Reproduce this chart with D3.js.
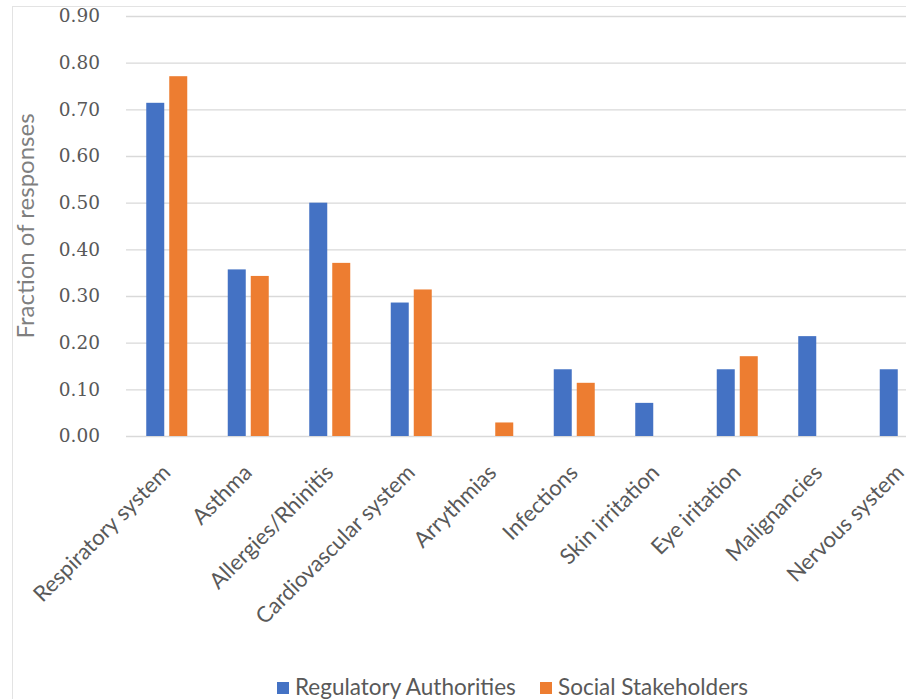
<!DOCTYPE html>
<html>
<head>
<meta charset="utf-8">
<script src="https://cdn.jsdelivr.net/npm/d3@7"></script>
<style>
  body { margin: 0; background: #fff; }
  svg { display: block; }
</style>
</head>
<body>
<svg id="chart"></svg>
<script>
// chart data
const categories = ["Respiratory system", "Asthma", "Allergies/Rhinitis", "Cardiovascular system",
    "Arrythmias", "Infections", "Skin irritation", "Eye iritation", "Malignancies", "Nervous system"];
const seriesNames = ["Regulatory Authorities", "Social Stakeholders"];
const regulatory = [0.714, 0.357, 0.500, 0.286, 0, 0.143, 0.071, 0.143, 0.214, 0.143];
const social = [0.771, 0.343, 0.371, 0.314, 0.029, 0.114, 0, 0.171, 0, 0];
const yTicks = [0, 0.1, 0.2, 0.3, 0.4, 0.5, 0.6, 0.7, 0.8, 0.9];
const colors = ["#4472C4", "#ED7D31"];

const W = 906, H = 699;
const plot = { left: 126, right: 941, top: 16, bottom: 436 };

const rows = categories.map((c, i) => ({ cat: c, vals: [regulatory[i], social[i]] }));

const svg = d3.select('#chart').attr('width', W).attr('height', H);

// light frame of the chart area
svg.append('rect')
    .attr('x', 12.5).attr('y', 6.5)
    .attr('width', W).attr('height', H)
    .attr('fill', 'none').attr('stroke', '#e3e3e3');

const x0 = d3.scaleBand().domain(categories).range([plot.left, plot.right]);
const x1 = d3.scaleBand().domain(seriesNames)
    .range([x0.bandwidth() / 2 - 20.5, x0.bandwidth() / 2 + 20.5])
    .paddingInner(5 / 23);
const y = d3.scaleLinear().domain([0, 0.9]).range([plot.bottom, plot.top]);

// gridlines + tick labels
const yAxis = svg.append('g')
    .attr('transform', `translate(${plot.left},0)`)
    .call(d3.axisLeft(y).tickValues(yTicks).tickFormat(d3.format('.2f'))
        .tickSize(-(W - plot.left)).tickPadding(26));
yAxis.select('.domain').remove();
yAxis.selectAll('line').attr('stroke', '#d9d9d9').attr('stroke-width', 1.3);
yAxis.selectAll('text')
    .attr('fill', '#595959')
    .style('font-family', '"DejaVu Serif", "Liberation Serif", serif')
    .style('font-size', '18.5px');

// y title
svg.append('text')
    .attr('transform', `translate(34,226) rotate(-90)`)
    .attr('text-anchor', 'middle')
    .attr('fill', '#7f7f7f')
    .style('font-family', 'Lato, "Open Sans", sans-serif')
    .style('font-size', '24px')
    .text('Fraction of responses');

// bars
const groups = svg.append('g').selectAll('g')
    .data(rows)
    .join('g')
    .attr('transform', d => `translate(${x0(d.cat)},0)`);

groups.selectAll('rect')
    .data(d => d.vals.map((v, i) => ({ key: seriesNames[i], v: v, i: i })))
    .join('rect')
    .attr('x', d => x1(d.key))
    .attr('width', x1.bandwidth())
    .attr('y', d => y(d.v))
    .attr('height', d => y(0) - y(d.v))
    .attr('fill', d => colors[d.i]);

// category labels, rotated
svg.append('g').selectAll('text')
    .data(categories)
    .join('text')
    .attr('transform', d => `translate(${x0(d) + x0.bandwidth() / 2 + 5},474) rotate(-45)`)
    .attr('text-anchor', 'end')
    .attr('fill', '#595959')
    .style('font-family', 'Lato, "Open Sans", sans-serif')
    .style('font-size', '22px')
    .text(d => d);

// legend
const legend = svg.append('g').attr('transform', 'translate(277,682)');
const items = legend.selectAll('g')
    .data(seriesNames)
    .join('g')
    .attr('transform', (d, i) => `translate(${i * 263},0)`);
items.append('rect')
    .attr('width', 12).attr('height', 12)
    .attr('fill', (d, i) => colors[i]);
items.append('text')
    .attr('x', 18).attr('y', 13)
    .attr('fill', '#595959')
    .style('font-family', 'Lato, "Open Sans", sans-serif')
    .style('font-size', '22.5px')
    .text(d => d);
</script>
</body>
</html>
